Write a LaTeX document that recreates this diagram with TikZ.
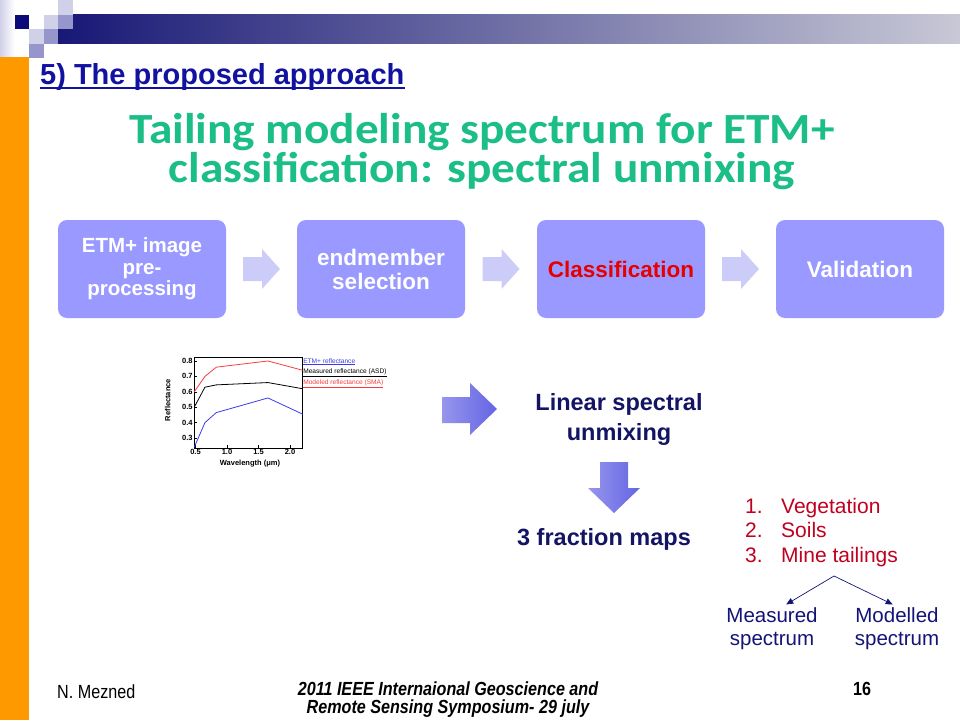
\documentclass[tikz,border=0pt]{standalone}
\usepackage{fontspec}
\setmainfont{Liberation Sans}
\newfontfamily\titlefont[FakeStretch=1.1]{Carlito}
\newfontfamily\narrowfont[FakeStretch=0.85]{Liberation Sans}
\usetikzlibrary{calc,arrows.meta,positioning}

\definecolor{bandnavy}{RGB}{24,24,118}
\definecolor{bandgrey}{RGB}{200,200,214}
\definecolor{sqdark}{RGB}{10,10,120}
\definecolor{sqlight}{RGB}{208,208,232}
\definecolor{sqmid}{RGB}{150,150,204}
\definecolor{barorange}{RGB}{255,153,0}
\definecolor{subblue}{RGB}{18,18,160}
\definecolor{titlegreen}{RGB}{26,190,134}
\definecolor{boxblue}{RGB}{153,153,255}
\definecolor{chevblue}{RGB}{204,204,248}
\definecolor{classred}{RGB}{230,0,0}
\definecolor{arrowlight}{RGB}{150,150,236}
\definecolor{arrowdark}{RGB}{100,100,228}
\definecolor{lsunavy}{RGB}{20,20,100}
\definecolor{listred}{RGB}{192,0,32}
\definecolor{specblue}{RGB}{20,20,120}
\definecolor{plotred}{RGB}{250,60,60}
\definecolor{plotblue}{RGB}{60,60,230}

\begin{document}
\begin{tikzpicture}[x=1pt, y=-1pt,
	stepbox/.style={fill=boxblue, rounded corners=9pt, minimum width=168pt, minimum height=98pt, align=center, text=white, font=\bfseries\fontsize{22.5}{24}\selectfont},
	chev/.style={fill=chevblue},
	bigarrow/.style={left color=arrowlight, right color=arrowdark},
	lsutext/.style={text=lsunavy, align=center, font=\bfseries\fontsize{23.5}{30}\selectfont},
	listtext/.style={text=listred, anchor=base west, inner sep=0pt, font=\fontsize{21}{22}\selectfont},
	spectext/.style={text=specblue, align=center, font=\fontsize{20.5}{23}\selectfont}] % slide 16
	
	\useasboundingbox[fill=white] (0,0) rectangle (960,720);
	
	% top band and squares
	\shade[left color=bandnavy, right color=bandgrey] (58,14.5) rectangle (960,43.5);
	\shade[left color=sqlight, right color=white] (0,0) rectangle (14.5,57);
	\fill[sqdark] (14.5,14.5) rectangle ++(14.5,14.5);
	\fill[sqlight] (58,0) rectangle ++(14.5,14.5);
	\fill[sqlight] (43.5,14.5) rectangle ++(14.5,14.5);
	\fill[sqmid] (58,14.5) rectangle ++(14.5,14.5);
	\fill[sqlight] (29,29) rectangle ++(14.5,14.5);
	\fill[sqmid] (43.5,29) rectangle ++(14.5,14.5);
	\fill[sqmid] (29,43.5) rectangle ++(14.5,14.5);
	\fill[barorange] (0,57) rectangle (29,720);
	
	% headings
	\node[anchor=base west, inner sep=0pt, text=subblue, font=\bfseries\fontsize{29}{30}\selectfont] (sub) at (40,84) {5) The proposed approach};
	\draw[subblue, line width=2pt] ($(sub.base west)+(0,4)$) -- ($(sub.base east)+(0,4)$);
	\node[anchor=base, align=center, text=titlegreen, font=\titlefont\bfseries\fontsize{43}{39}\selectfont] (ttl) at (482,182)
	{Tailing modeling spectrum for ETM+\\classification: spectral unmixing};
	
	% process steps
	\node[stepbox, font=\bfseries\fontsize{20.5}{21.5}\selectfont] (pre) at (142,269) {ETM+ image\\pre-\\processing};
	\node[stepbox] (sel) at (381,269) {endmember\\selection};
	\node[stepbox, text=classred] (cls) at (621,269) {Classification};
	\node[stepbox] (val) at (860,269) {Validation};
	\foreach \a/\b in {pre/sel, sel/cls, cls/val}
	\path[chev] ($(\a.east)!0.5!(\b.west)$) ++(-18.5,-12) -- ++(19,0) -- ++(0,-8) -- ++(18,20) -- ++(-18,20) -- ++(0,-8) -- ++(-19,0) -- cycle;
	
	% reflectance plot
	\begin{scope}[shift={(164,484.2)}, x=63pt, y=154pt, font=\bfseries\fontsize{7.5}{8}\selectfont]
		\draw[line width=0.6pt] (0.48,0.235) rectangle (2.2,0.825);
		\foreach \r in {0.3,0.4,0.5,0.6,0.7,0.8} {
			\draw[line width=0.5pt] (0.48,\r) -- ++(0.04,0);
			\node[left, inner sep=1.5pt] at (0.48,\r) {\r};
		}
		\foreach \w in {0.5,1.0,1.5,2.0} {
			\draw[line width=0.5pt] (\w,0.235) -- ++(0,0.02);
			\node[below, inner sep=1.5pt] at (\w,0.235) {\w};
		}
		\draw[plotred, line width=0.8pt] (0.48,0.6) -- (0.65,0.7) -- (0.83,0.76) -- (1.65,0.8) -- (2.2,0.74);
		\draw[black, line width=0.8pt] (0.48,0.5) -- (0.65,0.63) -- (0.83,0.645) -- (1.65,0.66) -- (2.2,0.62);
		\draw[plotblue, line width=0.8pt] (0.48,0.24) -- (0.65,0.4) -- (0.83,0.465) -- (1.65,0.56) -- (2.2,0.455);
		\node[rotate=90] (ylab) at (0.06,0.547) {Reflectance};
		\node (xlab) at (1.365,0.135) {Wavelength (μm)};
		\node[anchor=west, inner sep=0.5pt, text=plotblue, font=\fontsize{6.6}{7}\selectfont] (leg1) at (2.2,0.795) {\underline{ETM+ reflectance}};
		\node[anchor=west, inner sep=0.5pt, font=\fontsize{6.6}{7}\selectfont] (leg2) at (2.2,0.725) {\underline{Measured reflectance (ASD)}};
		\node[anchor=west, inner sep=0.5pt, text=plotred, font=\fontsize{6.6}{7}\selectfont] (leg3) at (2.2,0.655) {\underline{Modeled reflectance (SMA)}};
	\end{scope}
	
	% unmixing
	\path[bigarrow] (442,397) -- (470,397) -- (470,383) -- (497,409) -- (470,435) -- (470,423) -- (442,423) -- cycle;
	\node[lsutext, anchor=base] (lsu) at (619,440) {Linear spectral\\unmixing};
	\path[bigarrow] (600,462) -- (628,462) -- (628,488) -- (640,488) -- (614,513) -- (588,488) -- (600,488) -- cycle;
	\node[lsutext, anchor=base] (maps) at (604,545) {3 fraction maps};
	
	% classes
	\foreach \n/\t/\y in {1/Vegetation/513, 2/Soils/537, 3/Mine tailings/562} {
		\node[listtext] (num\n) at (745,\y) {\n.};
		\node[listtext] (cls\n) at (781,\y) {\t};
	}
	\coordinate (fork) at (834,576);
	\node[spectext] (meas) at (772,629) {Measured\\spectrum};
	\node[spectext] (mod) at (897,629) {Modelled\\spectrum};
	\draw[specblue, line width=0.7pt, -{Triangle[width=6pt,length=7pt]}] (fork) -- (meas.60);
	\draw[specblue, line width=0.7pt, -{Triangle[width=6pt,length=7pt]}] (fork) -- (mod.100);
	
	% footer
	\node[anchor=base west, inner sep=0pt, font=\narrowfont\fontsize{19}{20}\selectfont] (auth) at (57,698) {N. Mezned};
	\node[anchor=base, align=center, inner sep=0pt, font=\narrowfont\bfseries\itshape\fontsize{19}{18}\selectfont] (conf) at (448,713)
	{2011 IEEE Internaional Geoscience and\\Remote Sensing Symposium- 29 july};
	\node[anchor=base, inner sep=0pt, font=\narrowfont\bfseries\fontsize{19}{20}\selectfont] (page) at (862,695) {16};
\end{tikzpicture}
\end{document}
